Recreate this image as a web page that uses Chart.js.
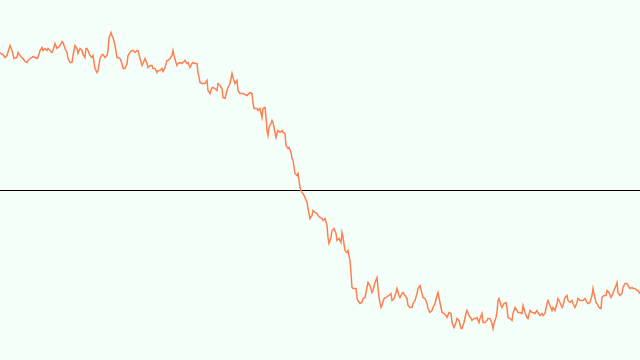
<!DOCTYPE html>
<html>
<head>
<meta charset="utf-8">
<script src="https://cdn.jsdelivr.net/npm/chart.js@4/dist/chart.umd.min.js"></script>
<style>
  html, body { margin: 0; padding: 0; background: #f5fffa; }
  #wrap { width: 640px; height: 360px; }
</style>
</head>
<body>
<div id="wrap"><canvas id="myChart"></canvas></div>
<script>
// posicion de cada lectura (paso) y su valor
const steps = [
  0,2,3,5,7,10,12,14,17,18,20,22,23,25,27,28,30,32,33,35,37,38,40,42,43,45,47,48,50,52,53,55,57,58,60,62,63,65,67,68,70,72,73,75,77,78,
  80,82,83,85,86,87,88,90,92,93,95,97,98,100,102,103,105,107,108,109,111,112,113,115,117,118,120,122,123,125,127,128,130,132,133,135,137,138,140,142,143,145,147,148,150,152,153,155,157,158,
  160,162,163,165,167,168,170,172,173,174,176,177,178,180,182,183,185,187,188,190,192,193,195,197,198,200,202,203,205,207,208,210,212,213,215,217,218,220,222,223,225,227,228,230,232,233,235,237,238,
  240,243,247,250,252,253,254,257,258,260,262,263,265,266,267,268,269,271,272,273,275,276,277,278,280,282,283,285,286,288,289,291,292,293,295,297,298,300,302,303,305,307,308,310,312,313,315,317,318,
  320,322,323,325,327,328,329,331,332,334,336,337,339,341,342,343,345,347,348,350,351,352,353,354,356,357,358,360,362,363,365,367,368,370,372,373,375,377,378,379,381,382,384,386,387,389,391,392,394,396,397,399,
  400,402,403,405,407,408,410,412,413,415,417,418,420,422,423,425,427,428,430,432,433,435,437,438,439,441,442,444,446,447,449,451,452,454,456,457,459,461,462,464,466,467,469,471,472,474,476,477,479,
  480,482,483,485,487,488,490,492,493,494,496,497,498,499,501,502,504,506,507,508,510,512,513,515,517,518,520,522,523,525,527,528,530,532,533,535,537,538,540,542,543,545,547,548,550,552,553,555,557,558,
  560,562,563,565,567,568,570,572,573,575,577,578,580,582,583,585,587,588,590,592,593,594,596,597,599,601,602,604,606,607,609,611,612,614,616,617,618,620,622,623,625,627,628,630,632,633,635,637,638,640
];

const values = [
  138,136,136,133,135,145,140,132,133,138,135,133,132,129,128,130,132,133,134,133,132,133,140,143,140,142,140,142,140,138,140,147,142,143,145,149,148,142,138,132,128,128,135,145,142,137,
  142,140,136,133,142,142,140,135,133,135,122,118,120,132,136,136,133,135,140,152,158,155,153,145,133,133,132,127,122,122,127,135,138,140,140,138,140,140,132,125,127,132,127,123,125,125,122,122,118,120,
  120,122,119,123,130,130,132,135,140,135,128,125,127,128,127,128,130,127,128,123,127,128,127,127,118,108,107,107,107,110,100,97,103,103,102,100,107,105,102,93,92,100,103,107,117,113,107,110,100,
  97,97,95,98,97,87,82,82,80,82,73,82,83,73,60,55,63,67,70,68,58,53,57,60,58,60,58,57,45,42,43,38,32,30,17,15,17,3,-2,-3,-7,-12,-18,-28,-25,-20,-22,-23,-25,
  -27,-28,-30,-28,-35,-47,-53,-47,-40,-38,-43,-50,-48,-52,-42,-47,-60,-62,-60,-70,-83,-97,-98,-98,-98,-108,-110,-113,-112,-108,-107,-97,-92,-95,-102,-100,-92,-87,-97,-107,-117,-115,-108,-107,-106,-105,-103,-110,-108,-102,-98,-105,
  -107,-103,-102,-105,-108,-115,-117,-117,-113,-110,-103,-98,-95,-103,-107,-108,-113,-118,-122,-120,-117,-113,-105,-102,-107,-117,-122,-123,-125,-127,-122,-123,-132,-137,-132,-128,-130,-138,-138,-132,-123,-120,-125,-128,-130,-128,-128,-127,-132,
  -128,-123,-132,-132,-130,-128,-128,-133,-138,-133,-127,-122,-110,-108,-115,-117,-113,-112,-117,-127,-128,-130,-123,-117,-120,-122,-122,-123,-115,-122,-127,-128,-120,-122,-122,-123,-120,-122,-125,-123,-125,-123,-113,-110,-115,-120,-117,-120,-113,-108,
  -112,-117,-115,-107,-105,-110,-112,-110,-113,-117,-112,-108,-110,-110,-110,-108,-112,-113,-112,-105,-98,-103,-112,-113,-117,-118,-107,-105,-105,-100,-102,-107,-105,-100,-95,-92,-102,-105,-103,-97,-93,-93,-95,-98,-97,-98,-98,-100,-100,-103
];

// linea del cero
const zeroSteps = [0, 640];
const zeroValues = [0, 0];

const serie = steps.map((s, i) => ({ x: s, y: values[i] }));
const cero = zeroSteps.map((s, i) => ({ x: s, y: zeroValues[i] }));

const ctx = document.getElementById('myChart').getContext('2d');
const chart = new Chart(ctx, {
  type: 'line',
  data: {
    datasets: [{
      data: serie,
      borderColor: '#ff7f50',
      borderWidth: 1.5,
      pointRadius: 0,
      tension: 0
    }, {
      data: cero,
      borderColor: '#000000',
      borderWidth: 1,
      pointRadius: 0
    }]
  },
  options: {
    responsive: true,
    maintainAspectRatio: false,
    animation: false,
    layout: { padding: 0 },
    plugins: { legend: { display: false }, tooltip: { enabled: false } },
    scales: {
      x: { type: 'linear', min: 0, max: 640, display: false },
      // medio pixel para que el cero caiga nitido
      y: { min: -169.5, max: 190.5, display: false }
    }
  }
});
</script>
</body>
</html>
